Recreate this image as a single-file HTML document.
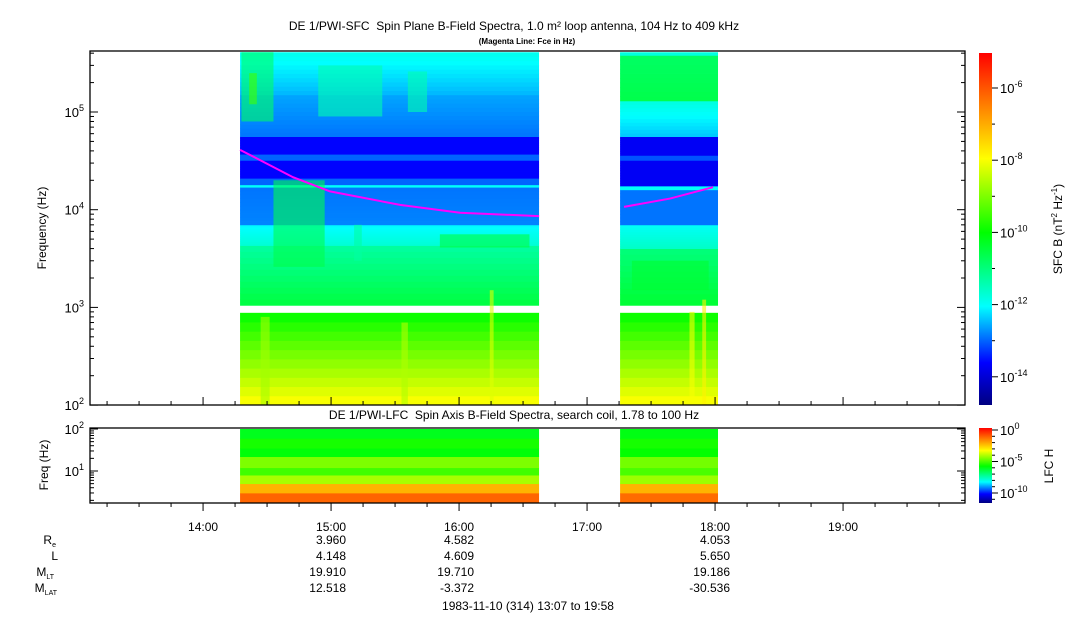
<!DOCTYPE html>
<html><head><meta charset="utf-8"><style>
body{margin:0;background:#fff;}
svg{display:block;font-family:"Liberation Sans",sans-serif;}
</style></head><body>
<svg id="c" width="1083" height="620" viewBox="0 0 1083 620">
<defs>
<linearGradient id="cmap" x1="0" y1="1" x2="0" y2="0">
<stop offset="0" stop-color="#000080"/><stop offset="0.12" stop-color="#0000ff"/><stop offset="0.28" stop-color="#00ffff"/><stop offset="0.49" stop-color="#00ff00"/><stop offset="0.70" stop-color="#ffff00"/><stop offset="0.85" stop-color="#ff8000"/><stop offset="1" stop-color="#ff0000"/>
</linearGradient>
</defs>
<text x="514" y="30" font-size="12" text-anchor="middle">DE 1/PWI-SFC&#160; Spin Plane B-Field Spectra, 1.0 m² loop antenna, 104 Hz to 409 kHz</text>
<text x="527" y="44" font-size="8" font-weight="bold" text-anchor="middle">(Magenta Line: Fce in Hz)</text>
<text x="514" y="419" font-size="12" text-anchor="middle">DE 1/PWI-LFC&#160; Spin Axis B-Field Spectra, search coil, 1.78 to 100 Hz</text>
<g id="sfc"></g>
<g id="lfc"></g>
<g id="axes"></g>
<rect x="90" y="51" width="875" height="354" fill="none" stroke="#000" stroke-width="1.3"/>
<rect x="90" y="428" width="875" height="75" fill="none" stroke="#000" stroke-width="1.3"/>
<text transform="translate(46,228) rotate(-90)" font-size="12" text-anchor="middle">Frequency (Hz)</text>
<text transform="translate(48,465) rotate(-90)" font-size="12" text-anchor="middle">Freq (Hz)</text>
<rect x="979" y="53" width="13" height="352" fill="url(#cmap)"/>
<rect x="979" y="428" width="13" height="75" fill="url(#cmap)"/>
<text transform="translate(1062,229) rotate(-90)" font-size="12" text-anchor="middle">SFC B (nT<tspan font-size="8" dy="-5">2</tspan><tspan dy="5"> Hz</tspan><tspan font-size="8" dy="-5">-1</tspan><tspan dy="5">)</tspan></text>
<text transform="translate(1053,466) rotate(-90)" font-size="12" text-anchor="middle">LFC H</text>
<g font-size="12" text-anchor="end">
<text x="56" y="544">R<tspan font-size="7" dy="3">e</tspan></text>
<text x="58" y="560">L</text>
<text x="54" y="576">M<tspan font-size="7" dy="3">LT</tspan></text>
<text x="57" y="592">M<tspan font-size="7" dy="3">LAT</tspan></text>
</g>
<g font-size="12" text-anchor="end">
<text x="346" y="544">3.960</text><text x="474" y="544">4.582</text><text x="730" y="544">4.053</text>
<text x="346" y="560">4.148</text><text x="474" y="560">4.609</text><text x="730" y="560">5.650</text>
<text x="346" y="576">19.910</text><text x="474" y="576">19.710</text><text x="730" y="576">19.186</text>
<text x="346" y="592">12.518</text><text x="474" y="592">-3.372</text><text x="730" y="592">-30.536</text>
</g>
<text x="528" y="610" font-size="12" text-anchor="middle">1983-11-10 (314) 13:07 to 19:58</text>
</svg>
<script>
// ---- data ----
const blocks = [[14.289, 16.625], [17.258, 18.023]];
// SFC bands per block: [fLo, fHi, logPowerLo, logPowerHi]
const sfcBands1 = [[1050,4300,-10.5,-11.3],[4300,7000,-11.7,-12.1],[7000,17000,-12.8,-12.9],[17000,18000,-12.0,-12.0],[18000,21000,-13.0,-13.0],[21000,32000,-13.6,-13.6],[32000,37000,-13.0,-13.0],[37000,56000,-13.6,-13.6],[56000,150000,-12.9,-12.6],[150000,409000,-12.5,-11.9],[100,880,-7.9,-10.0]];
const sfcBands2 = [[1050,4000,-10.4,-11.0],[4000,7000,-11.6,-12.0],[7000,16000,-12.9,-12.9],[16000,17500,-12.0,-12.0],[17500,32000,-13.7,-13.7],[32000,36000,-13.1,-13.1],[36000,56000,-13.7,-13.7],[56000,130000,-12.4,-11.8],[130000,380000,-10.6,-10.8],[380000,409000,-11.8,-11.8],[100,880,-7.9,-10.0]];
// bursts: [t0, t1, fLo, fHi, logPower]
const bursts = [[14.30,14.55,80000,409000,-10.8],[14.36,14.42,120000,250000,-9.5],[14.9,15.4,90000,300000,-11.4],[15.6,15.75,100000,260000,-11.4],[14.55,14.95,2600,20000,-10.6],[15.18,15.24,3000,7000,-11.3],[15.85,16.55,4100,5600,-10.5],[16.24,16.27,100,1500,-8.2],[14.45,14.52,100,800,-8.7],[15.55,15.6,100,700,-8.6],[17.35,17.95,1500,3000,-10.4],[17.8,17.84,100,900,-8.0],[17.9,17.93,100,1200,-7.8]];
const fceTimes1 = [14.289,14.703,14.992,15.539,16.008,16.625];
const fceValues1 = [41000,21500,15400,11200,9300,8600];
const fceTimes2 = [17.289,17.648,17.984];
const fceValues2 = [10700,13000,17000];
// LFC bands: [fLo, fHi, logPower]
const lfcBands1 = [[1.78,3,-1.2],[3,5,-2.3],[5,8,-4.2],[8,12,-5.2],[12,22,-4.6],[22,35,-5.9],[35,60,-5.6],[60,100,-6.1]];
const lfcBands2 = [[1.78,3,-1.3],[3,5,-2.3],[5,8,-4.3],[8,12,-5.1],[12,22,-4.7],[22,35,-5.8],[35,60,-5.6],[60,100,-6.0]];
const hourTicks = ['14:00','15:00','16:00','17:00','18:00','19:00'];
const hourValues = [14,15,16,17,18,19];
const sfcYTicks = [2,3,4,5];
const lfcYTicks = [1,2];
const sfcCbTicks = [-6,-8,-10,-12,-14];
const lfcCbTicks = [0,-5,-10];

// ---- scales ----
const NS='http://www.w3.org/2000/svg';
const xT = t => 90 + (t - 13.1167) * 128;
const yF = f => 112 + (5 - Math.log10(f)) * 97.7;
const yL = f => 471 + (1 - Math.log10(f)) * 42;
const stops=[[0,[0,0,128]],[0.12,[0,0,255]],[0.28,[0,255,255]],[0.49,[0,255,0]],[0.70,[255,255,0]],[0.85,[255,128,0]],[1,[255,0,0]]];
function cmap(fr){fr=Math.max(0,Math.min(1,fr));for(let i=1;i<stops.length;i++){if(fr<=stops[i][0]){const a=stops[i-1],b=stops[i],u=(fr-a[0])/(b[0]-a[0]);return 'rgb('+a[1].map((v,k)=>Math.round(v+(b[1][k]-v)*u)).join(',')+')';}}return 'rgb(255,0,0)';}
const sfcColor = v => cmap((v + 14.78) / 9.75);
const lfcColor = v => cmap((v + 11.6) / 11.8);
function mk(tag,at,parent){const e=document.createElementNS(NS,tag);for(const k in at)e.setAttribute(k,at[k]);parent.appendChild(e);return e;}

const sfc=document.getElementById('sfc'), lfc=document.getElementById('lfc'), axes=document.getElementById('axes');
[sfcBands1,sfcBands2].forEach((bands,bi)=>{
  const x0=xT(blocks[bi][0]), x1=xT(blocks[bi][1]);
  bands.forEach(b=>{
    const n=10, l0=Math.log10(b[0]), l1=Math.log10(b[1]);
    for(let i=0;i<n;i++){
      const fa=Math.pow(10,l0+(l1-l0)*i/n), fb=Math.pow(10,l0+(l1-l0)*(i+1)/n);
      const v=b[2]+(b[3]-b[2])*(i+0.5)/n;
      const r=mk('rect',{x:x0,y:yF(fb),width:x1-x0,height:yF(fa)-yF(fb)+0.4,fill:sfcColor(v)},sfc);
      
      
    }
  });
});
bursts.forEach(b=>{
  const r=mk('rect',{x:xT(b[0]),y:yF(b[3]),width:xT(b[1])-xT(b[0]),height:yF(b[2])-yF(b[3]),fill:sfcColor(b[4]),opacity:0.6},sfc);
  
  
});
[[fceTimes1,fceValues1],[fceTimes2,fceValues2]].forEach(([ts,vs])=>{
  const p=mk('polyline',{points:ts.map((t,i)=>xT(t)+','+yF(vs[i])).join(' '),fill:'none',stroke:'#ff00ff','stroke-width':2},sfc);
  
  
});
[lfcBands1,lfcBands2].forEach((bands,bi)=>{
  const x0=xT(blocks[bi][0]), x1=xT(blocks[bi][1]);
  bands.forEach(b=>{
    const r=mk('rect',{x:x0,y:yL(b[1]),width:x1-x0,height:yL(b[0])-yL(b[1])+0.4,fill:lfcColor(b[2])},lfc);
    
    
  });
});
// x ticks
for(let m=0;m<=27;m++){
  const t=13.25+m*0.25, x=xT(t); if(x>965)break;
  const major=Math.abs(t-Math.round(t))<1e-6;
  const len=major?8:4;
  mk('line',{x1:x,x2:x,y1:503,y2:503+len,stroke:'#000'},axes);
  mk('line',{x1:x,x2:x,y1:405,y2:405-len,stroke:'#000'},axes);
}
hourValues.forEach((h,i)=>{
  const t=mk('text',{x:xT(h),y:531,'font-size':12,'text-anchor':'middle'},axes);
  t.textContent=hourTicks[i];
  
  
});
// y ticks (log minor)
function logTicks(yfn,dmin,dmax,fmin,fmax,xl){
  for(let d=dmin;d<=dmax;d++){for(let k=1;k<10;k++){const f=k*Math.pow(10,d);if(f<fmin||f>fmax)continue;const y=yfn(f);const len=k==1?8:4;mk('line',{x1:xl,x2:xl+len,y1:y,y2:y,stroke:'#000'},axes);mk('line',{x1:965,x2:965-len,y1:y,y2:y,stroke:'#000'},axes);}}
}
logTicks(yF,2,5,100,409000,90);
logTicks(yL,0,2,1.78,100,90);
function powLabel(x,y,exp,name,anchorStart){
  const t=mk('text',{x:x,y:y,'font-size':13,'text-anchor':anchorStart?'start':'end'},axes);
  t.innerHTML='10<tspan font-size="9" dy="-6">'+exp+'</tspan>';
  
  
}
sfcYTicks.forEach(e=>powLabel(84,yF(Math.pow(10,e))+5,e,'sfc-y-tick-label'));
lfcYTicks.forEach(e=>powLabel(84,yL(Math.pow(10,e))+5,e,'lfc-y-tick-label'));
// colorbar ticks
const cbS=v=>88+(-6-v)*36.1;
for(let v=-6;v>=-14;v--){mk('line',{x1:992,x2:v%2==0?998:995,y1:cbS(v),y2:cbS(v),stroke:'#000'},axes);}
sfcCbTicks.forEach(v=>powLabel(1000,cbS(v)+5,v,'sfc-colorbar-tick-label',true));
const cbL=v=>430+(-v)*6.3;
for(let v=0;v>=-11;v--){mk('line',{x1:992,x2:v%5==0?998:995,y1:cbL(v),y2:cbL(v),stroke:'#000'},axes);}
lfcCbTicks.forEach(v=>powLabel(1000,cbL(v)+5,v,'lfc-colorbar-tick-label',true));
</script>
</body></html>
